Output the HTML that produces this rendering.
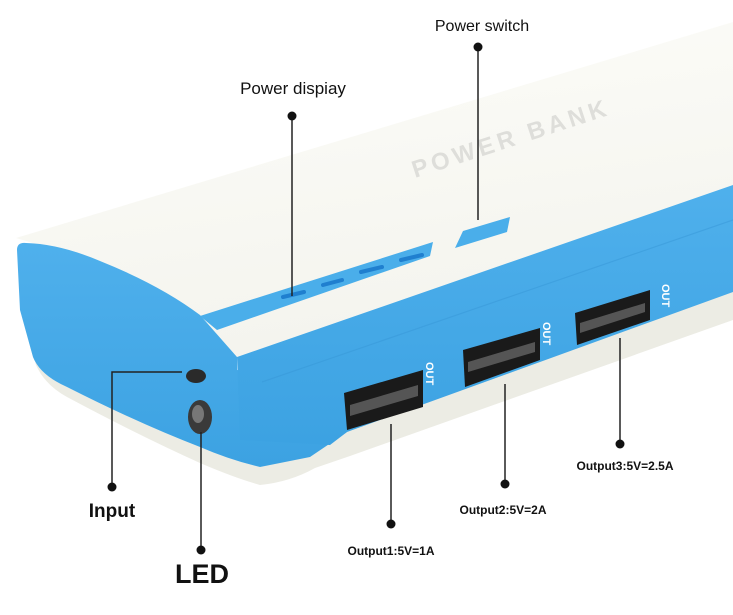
<!DOCTYPE html>
<html><head><meta charset="utf-8"><style>
html,body{margin:0;padding:0;background:#fff;}
svg{display:block;}
text{font-family:"Liberation Sans","DejaVu Sans",sans-serif;}
</style></head><body>
<svg width="733" height="615" viewBox="0 0 733 615" xmlns="http://www.w3.org/2000/svg">
<defs>
<linearGradient id="top" x1="0" y1="0" x2="0.3" y2="1">
<stop offset="0" stop-color="#fdfdf9"/><stop offset="1" stop-color="#f4f4ee"/>
</linearGradient>
<linearGradient id="blue" x1="0" y1="0" x2="0" y2="1">
<stop offset="0" stop-color="#4fb0ec"/><stop offset="1" stop-color="#3ca2e2"/>
</linearGradient>
</defs>
<rect width="733" height="615" fill="#fff"/>
<!-- top surface -->
<polygon points="16,238 733,22 733,186 237,357 200,315 100,263" fill="url(#top)"/>
<!-- white base -->
<path d="M20,310 L36,365 Q45,385 67,397 Q140,436 200,463 Q235,478 260,485 Q290,482 315,468 L350,456 L733,320 L733,290 L347,430 L310,455 L260,467 Q230,460 200,447 Q140,424 67,387 Q40,375 33,357 Z" fill="#ecece4"/>
<!-- blue left cap -->
<path d="M17,250 Q17,242 26,243 Q60,244 100,261 Q160,285 200,315 L237,357 L237,370 L347,395 L347,432 L310,457 L260,467 Q230,460 200,447 Q140,424 67,387 Q40,375 33,357 L20,310 Z" fill="url(#blue)"/>
<!-- blue front face -->
<polygon points="237,357 733,185 733,292 347,432 330,445 240,440" fill="url(#blue)"/>
<line x1="262" y1="382" x2="733" y2="220" stroke="#3898d8" stroke-width="1.2" opacity="0.5"/>
<!-- LED bar -->
<polygon points="200,316 433,242 430,256 217,330" fill="#4aaeea"/>
<g stroke="#1f7fcf" stroke-width="4" stroke-linecap="round">
<line x1="283" y1="297" x2="304" y2="292"/>
<line x1="323" y1="285" x2="342" y2="280"/>
<line x1="361" y1="272" x2="382" y2="267"/>
<line x1="401" y1="260" x2="422" y2="255"/>
</g>
<!-- power switch -->
<polygon points="455,248 463,231 510,217 507,232" fill="#4aaeea"/>
<!-- POWER BANK -->
<text x="0" y="0" transform="translate(415,178) rotate(-18)" font-family="Liberation Serif,serif" font-weight="bold" font-size="24" fill="#dededa" letter-spacing="4">POWER BANK</text>
<!-- ports -->
<polygon points="344,393 423,370 423,407 347,430" fill="#1a1a1a"/>
<polygon points="350,405 418,385 418,396 350,416" fill="#555"/>
<polygon points="463,350 540,328 540,360 465,387" fill="#1a1a1a"/>
<polygon points="468,362 535,342 535,352 468,372" fill="#555"/>
<polygon points="575,313 650,290 650,320 577,345" fill="#1a1a1a"/>
<polygon points="580,323 645,303 645,312 580,333" fill="#555"/>
<g fill="#fff" font-size="11" font-weight="bold">
<text transform="translate(426,362) rotate(90)">OUT</text>
<text transform="translate(543,322) rotate(90)">OUT</text>
<text transform="translate(662,284) rotate(90)">OUT</text>
</g>
<!-- input port & LED -->
<ellipse cx="196" cy="376" rx="10" ry="7" fill="#2a2a2a"/>
<ellipse cx="200" cy="417" rx="12" ry="17" fill="#3a3a3a"/>
<ellipse cx="198" cy="414" rx="6" ry="9" fill="#777"/>
<!-- leader lines -->
<g stroke="#222" stroke-width="1.5" fill="none">
<line x1="478" y1="47" x2="478" y2="220"/>
<line x1="292" y1="116" x2="292" y2="296"/>
<polyline points="112,487 112,372 182,372"/>
<line x1="201" y1="550" x2="201" y2="432"/>
<line x1="391" y1="524" x2="391" y2="424"/>
<line x1="505" y1="484" x2="505" y2="384"/>
<line x1="620" y1="444" x2="620" y2="338"/>
</g>
<g fill="#111">
<circle cx="478" cy="47" r="4.5"/><circle cx="292" cy="116" r="4.5"/>
<circle cx="112" cy="487" r="4.5"/><circle cx="201" cy="550" r="4.5"/>
<circle cx="391" cy="524" r="4.5"/><circle cx="505" cy="484" r="4.5"/>
<circle cx="620" cy="444" r="4.5"/>
</g>
<g fill="#111" text-anchor="middle">
<text x="482" y="31" font-size="16">Power switch</text>
<text x="293" y="94" font-size="17">Power dispiay</text>
<text x="112" y="517" font-size="19" font-weight="bold">Input</text>
<text x="202" y="583" font-size="27" font-weight="bold">LED</text>
<text x="391" y="555" font-size="12" font-weight="bold">Output1:5V=1A</text>
<text x="503" y="514" font-size="12" font-weight="bold">Output2:5V=2A</text>
<text x="625" y="470" font-size="12" font-weight="bold">Output3:5V=2.5A</text>
</g>
</svg>
</body></html>
